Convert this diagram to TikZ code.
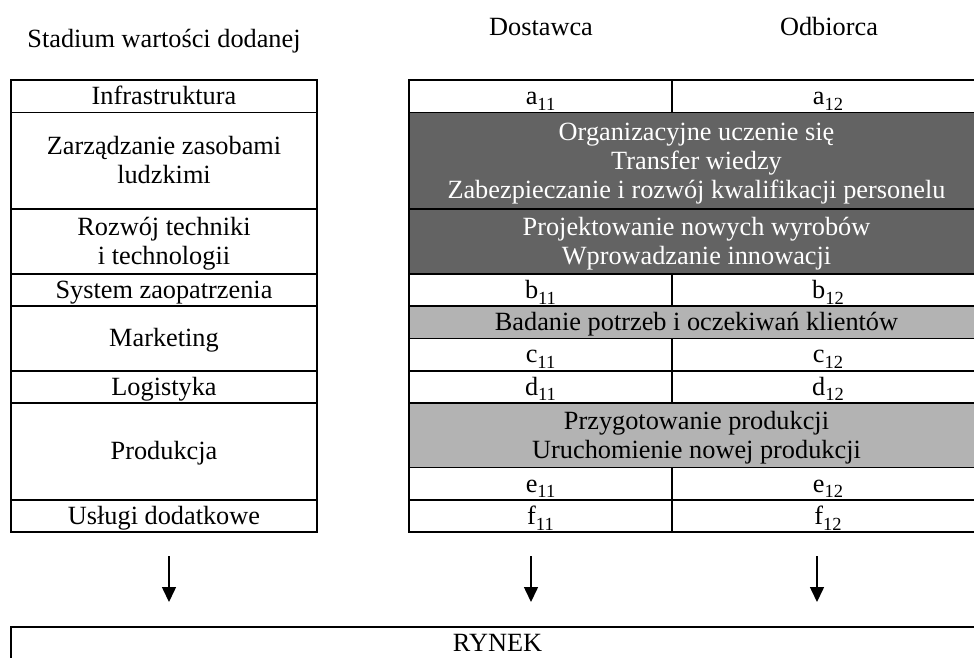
\documentclass[tikz,border=0pt]{standalone}
\usepackage{fontspec}
\setmainfont{Liberation Serif}
\usetikzlibrary{arrows.meta}
\definecolor{darkcell}{RGB}{99,99,99}
\definecolor{lightcell}{RGB}{179,179,179}
\newcommand\cellfont{\fontsize{26.3}{29}\selectfont}
\newcommand\idx[1]{\raisebox{-0.22em}{\fontsize{18.5}{18.5}\selectfont #1}}
% stacked, centred lines with the first baseline as reference
\newcommand\stk[1]{\begin{tabular}[t]{@{}c@{}}#1\end{tabular}}
\begin{document}
\begin{tikzpicture}[x=1pt,y=-1pt,
  cell/.style={draw, line width=1.6pt, rectangle, inner sep=0pt,
               font=\cellfont, minimum height=32.3pt},
  oneline/.style={text height=21pt, text depth=4.4pt},
  twolines/.style={text height=21pt, text depth=33.4pt},
  threelines/.style={text height=21pt, text depth=62.4pt},
  leftcol/.style={minimum width=306pt},
  supcol/.style={minimum width=263pt},
  reccol/.style={minimum width=312pt},
  fullcol/.style={minimum width=575pt},
  darkbox/.style={fill=darkcell, text=white},
  lightbox/.style={fill=lightcell},
  head/.style={font=\cellfont, anchor=base, inner sep=0pt},
  arr/.style={line width=1.5pt, -{Triangle[length=15pt,width=14pt]}}
]
\useasboundingbox (0,0) rectangle (974,657);
\clip (0,0) rectangle (974,657);

% column headings
\node[head] (hstage) at (164,47) {Stadium wartości dodanej};
\node[head] (hsup)   at (541,35) {Dostawca};
\node[head] (hrec)   at (829,35) {Odbiorca};

% value-added stages
\node[cell,leftcol,oneline] (inf)  at (164,96.15)  {Infrastruktura};
\node[cell,leftcol,twolines,minimum height=96.9pt] (hr) at (164,160.75)
  {\stk{Zarządzanie zasobami\\ludzkimi}};
\node[cell,leftcol,twolines,minimum height=64.6pt] (tech) at (164,241.5)
  {\stk{Rozwój techniki\\i technologii}};
\node[cell,leftcol,oneline] (supply) at (164,289.95) {System zaopatrzenia};
\node[cell,leftcol,oneline,minimum height=64.6pt] (mkt) at (164,338.4) {Marketing};
\node[cell,leftcol,oneline] (logi) at (164,386.85) {Logistyka};
\node[cell,leftcol,oneline,minimum height=96.9pt] (prod) at (164,451.45) {Produkcja};
\node[cell,leftcol,oneline] (serv) at (164,516.05) {Usługi dodatkowe};

% supplier / customer matrix
\node[cell,supcol,oneline] (a1) at (540.5,96.15) {a\idx{11}};
\node[cell,reccol,oneline] (a2) at (828,96.15)   {a\idx{12}};
\node[cell,fullcol,darkbox,threelines,minimum height=96.9pt] (org) at (696.5,160.75)
  {\stk{Organizacyjne uczenie się\\Transfer wiedzy\\Zabezpieczanie i rozwój kwalifikacji personelu}};
\node[cell,fullcol,darkbox,twolines,minimum height=64.6pt] (proj) at (696.5,241.5)
  {\stk{Projektowanie nowych wyrobów\\Wprowadzanie innowacji}};
\node[cell,supcol,oneline] (b1) at (540.5,289.95) {b\idx{11}};
\node[cell,reccol,oneline] (b2) at (828,289.95)   {b\idx{12}};
\node[cell,fullcol,lightbox,oneline] (needs) at (696.5,322.25)
  {Badanie potrzeb i oczekiwań klientów};
\node[cell,supcol,oneline] (c1) at (540.5,354.55) {c\idx{11}};
\node[cell,reccol,oneline] (c2) at (828,354.55)   {c\idx{12}};
\node[cell,supcol,oneline] (d1) at (540.5,386.85) {d\idx{11}};
\node[cell,reccol,oneline] (d2) at (828,386.85)   {d\idx{12}};
\node[cell,fullcol,lightbox,twolines,minimum height=64.6pt] (prep) at (696.5,435.3)
  {\stk{Przygotowanie produkcji\\Uruchomienie nowej produkcji}};
\node[cell,supcol,oneline] (e1) at (540.5,483.75) {e\idx{11}};
\node[cell,reccol,oneline] (e2) at (828,483.75)   {e\idx{12}};
\node[cell,supcol,oneline] (f1) at (540.5,516.05) {f\idx{11}};
\node[cell,reccol,oneline] (f2) at (828,516.05)   {f\idx{12}};

% market
\node[cell,minimum width=973pt,minimum height=80pt] (market) at (497.5,667) {};
\node[head] (marketlbl) at (497.5,651) {RYNEK};

% flows towards the market
\coordinate (s1) at (169,556);  \coordinate (t1) at (169,602);
\coordinate (s2) at (531,556);  \coordinate (t2) at (531,602);
\coordinate (s3) at (817,556);  \coordinate (t3) at (817,602);
\draw[arr] (s1) -- (t1);
\draw[arr] (s2) -- (t2);
\draw[arr] (s3) -- (t3);
\end{tikzpicture}
\end{document}
